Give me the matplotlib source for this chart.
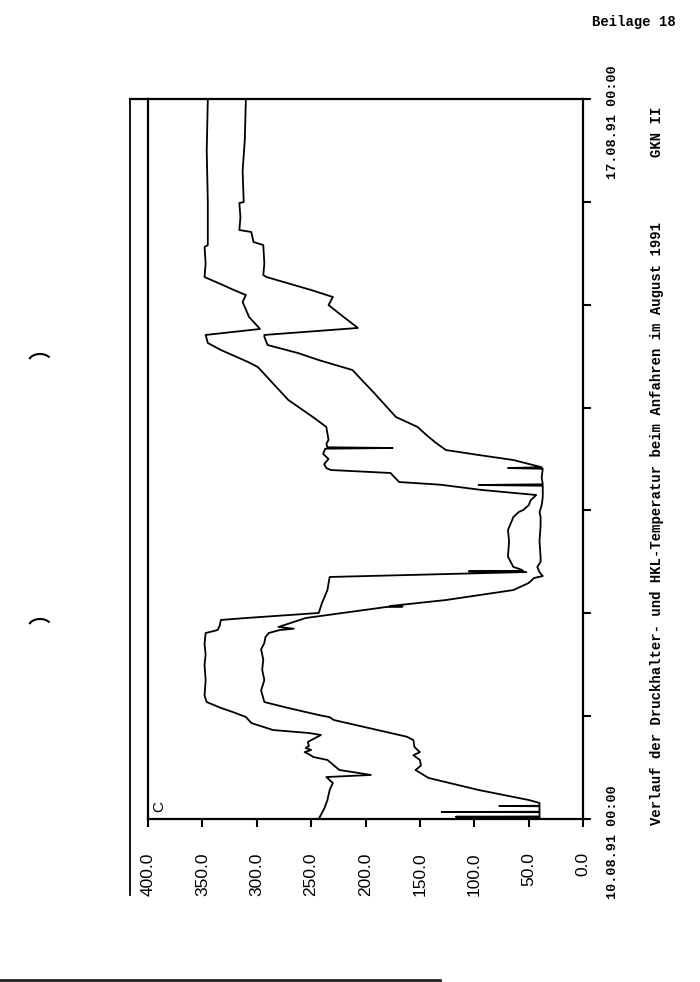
import numpy as np
import matplotlib.pyplot as plt
from matplotlib.lines import Line2D
from matplotlib.patches import Arc

# Zeit in Tagen ab 10.08.91 00:00, Temperatur in Grad C
# Druckhalter-Temperatur
dh_tag = [0.00, 0.10, 0.185, 0.28, 0.35, 0.408, 0.428, 0.447, 0.476, 0.574,
          0.603, 0.63, 0.65, 0.671, 0.69, 0.71, 0.749, 0.80, 0.817, 0.836,
          0.865, 0.933, 0.992, 1.040, 1.08, 1.137, 1.20, 1.35, 1.50, 1.60,
          1.70, 1.808, 1.837, 1.88, 1.935, 1.954, 2.003, 2.10, 2.226, 2.353,
          2.401, 2.408, 2.413, 2.43, 2.45, 2.55, 2.70, 2.81, 2.936, 2.985,
          3.004, 3.05, 3.10, 3.15, 3.20, 3.25, 3.276, 3.33, 3.364, 3.393,
          3.412, 3.45, 3.50, 3.55, 3.600, 3.607, 3.614, 3.65, 3.685, 3.811,
          3.898, 4.074, 4.394, 4.443, 4.560, 4.628, 4.706, 4.764, 4.88, 5.026,
          5.094, 5.143, 5.20, 5.269, 5.40, 5.561, 5.58, 6.0, 6.5, 7.0]
dh_temp = [243, 238, 235, 233, 230, 236, 195, 206, 224, 235,
           248, 252, 256, 250, 255, 252, 253, 244, 241, 252,
           285, 305, 310, 322, 333, 346, 348, 347, 348, 347,
           348, 347, 336, 334, 333, 310, 243, 240, 235, 233,
           52, 105, 55, 58, 64, 69, 68, 69, 64, 59,
           55, 50, 48, 43, 94, 131, 169, 174, 177, 232,
           236, 238, 234, 239, 237, 175, 235, 236, 234, 236,
           247, 271, 299, 308, 333, 345, 347, 297, 307, 313,
           310, 321, 333, 348, 347, 348, 345, 345, 346, 345]

# HKL-Temperatur
hkl_tag = [0.00, 0.019, 0.022, 0.025, 0.066, 0.068, 0.071, 0.124, 0.126, 0.129,
           0.156, 0.185, 0.282, 0.399, 0.476, 0.52, 0.574, 0.62, 0.65, 0.70,
           0.768, 0.80, 0.962, 0.99, 1.011, 1.079, 1.137, 1.25, 1.351, 1.45,
           1.55, 1.65, 1.711, 1.769, 1.808, 1.837, 1.85, 1.867, 1.954, 2.061,
           2.066, 2.07, 2.129, 2.226, 2.294, 2.343, 2.362, 2.40, 2.45, 2.50,
           2.547, 2.70, 2.85, 2.936, 2.985, 3.05, 3.13, 3.24, 3.247, 3.254,
           3.32, 3.405, 3.412, 3.42, 3.490, 3.539, 3.587, 3.655, 3.733, 3.811,
           3.908, 4.141, 4.365, 4.462, 4.53, 4.608, 4.686, 4.706, 4.774, 4.88,
           4.997, 5.075, 5.143, 5.269, 5.289, 5.40, 5.580, 5.610, 5.707, 5.726,
           5.85, 5.989, 5.998, 6.3, 6.6, 7.0]
hkl_temp = [40, 40, 117, 40, 40, 130, 40, 40, 77, 40,
            40, 50, 96, 142, 154, 149, 150, 156, 150, 155,
            156, 162, 229, 233, 243, 271, 293, 296, 293, 295,
            294, 296, 293, 292, 289, 279, 266, 280, 255, 181,
            166, 178, 126, 64, 50, 45, 37, 40, 42, 39,
            39, 40, 39, 39, 40, 38, 37, 37, 96, 37,
            38, 37, 69, 38, 64, 96, 126, 135, 144, 152,
            172, 192, 212, 243, 262, 290, 293, 293, 207, 220,
            234, 230, 250, 291, 294, 293, 294, 303, 305, 316,
            315, 316, 312, 313, 311, 310]

temp_ticks = [400, 350, 300, 250, 200, 150, 100, 50, 0]
temp_labels = ["400.0", "350.0", "300.0", "250.0", "200.0",
               "150.0", "100.0", "50.0", "0.0"]
tag_ticks = [0, 1, 2, 3, 4, 5, 6, 7]

W, H = 700, 982
fig = plt.figure(figsize=(7, 9.82), dpi=100)
ax = fig.add_axes([148 / W, 1 - 819 / H, 435 / W, 720 / H])

ax.plot(dh_temp, dh_tag, color="black", lw=1.3)
ax.plot(hkl_temp, hkl_tag, color="black", lw=1.3)

ax.set_xlim(400, 0)
ax.set_ylim(0, 7)
ax.set_xticks(temp_ticks)
ax.set_xticklabels(temp_labels, rotation=90, fontfamily="Liberation Sans", fontsize=12.5)
ax.tick_params(axis="x", direction="out", length=6, width=1.5, pad=18)
ax.yaxis.tick_right()
ax.set_yticks(tag_ticks)
ax.set_yticklabels([])
ax.tick_params(axis="y", direction="out", length=6, width=1.5)
for s in ax.spines.values():
    s.set_linewidth(1.6)

ax.text(0.025, 0.018, "C", transform=ax.transAxes, rotation=90,
        ha="center", va="center", fontfamily="Liberation Sans", fontsize=11)

# Datumsbeschriftung
tr = ax.get_yaxis_transform()
mono = dict(fontfamily="Liberation Mono", fontweight="bold")
ax.text(1.069, 0.33, "10.08.91 00:00", transform=tr, rotation=90,
        ha="center", va="top", fontsize=9.7, clip_on=False, **mono)
ax.text(1.069, 7.33, "17.08.91 00:00", transform=tr, rotation=90,
        ha="center", va="top", fontsize=9.7, clip_on=False, **mono)

fig.text(657 / W, 1 - 825 / H,
         "Verlauf der Druckhalter- und HKL-Temperatur beim Anfahren im August 1991",
         rotation=90, ha="center", va="bottom", fontsize=10, **mono)
fig.text(657 / W, 1 - 132 / H, "GKN II", rotation=90, ha="center", va="center",
         fontsize=10, **mono)
fig.text(592 / W, 1 - 22 / H, "Beilage 18", ha="left", va="center", fontsize=10, **mono)

# Rahmenlinien der Vorlage
fig.add_artist(Line2D([130 / W, 130 / W], [1 - 99 / H, 1 - 895 / H], color="black", lw=1.3))
fig.add_artist(Line2D([130 / W, 148 / W], [1 - 99 / H, 1 - 99 / H], color="black", lw=1.6))
fig.add_artist(Line2D([0, 440 / W], [1 - 980 / H, 1 - 980 / H], color="#222222", lw=2))

# Lochung
for yy in (355, 620):
    fig.add_artist(Arc((40 / 100, (H - yy - 6) / 100), 0.22, 0.14, theta1=20, theta2=170,
                       transform=fig.dpi_scale_trans, color="black", lw=1.5))

fig.savefig("out.png", dpi=100)
